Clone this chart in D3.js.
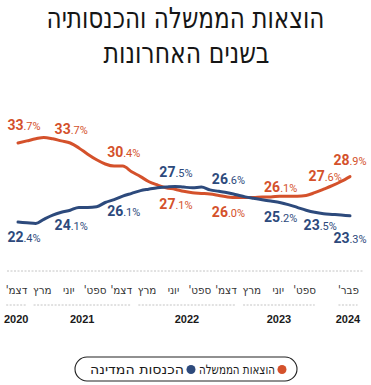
<!DOCTYPE html>
<html lang="he">
<head>
<meta charset="utf-8">
<script src="https://cdn.jsdelivr.net/npm/d3@7"></script>
<style>
  html, body { margin: 0; padding: 0; background: #fff; }
  svg { display: block; }
</style>
</head>
<body>
<script>
// ---------------- DATA ----------------
const titleLines = ["הוצאות הממשלה והכנסותיה", "בשנים האחרונות"];

const months = [
  "2020-12",
  "2021-01","2021-02","2021-03","2021-04","2021-05","2021-06",
  "2021-07","2021-08","2021-09","2021-10","2021-11","2021-12",
  "2022-01","2022-02","2022-03","2022-04","2022-05","2022-06",
  "2022-07","2022-08","2022-09","2022-10","2022-11","2022-12",
  "2023-01","2023-02","2023-03","2023-04","2023-05","2023-06",
  "2023-07","2023-08","2023-09","2023-10","2023-11","2023-12",
  "2024-01","2024-02"
];

// הוצאות הממשלה (% of GDP)
const expenditure = [
  33.7,
  34.0, 34.3, 34.5, 34.3, 34.0, 33.7,
  33.0, 32.1, 31.3, 30.7, 30.4, 30.4,
  29.6, 28.9, 28.2, 27.7, 27.3, 27.1,
  26.8, 26.6, 26.5, 26.4, 26.2, 26.0,
  25.9, 25.9, 25.9, 26.0, 26.0, 26.1,
  26.1, 26.1, 26.2, 26.6, 27.1, 27.6,
  28.2, 28.9
];

// הכנסות המדינה (% of GDP)
const revenue = [
  22.4,
  22.3, 22.2, 22.8, 23.4, 23.8, 24.1,
  24.5, 24.5, 24.6, 25.2, 25.6, 26.1,
  26.5, 26.9, 27.1, 27.3, 27.4, 27.5,
  27.4, 27.3, 27.4, 27.0, 26.8, 26.6,
  26.3, 26.0, 25.8, 25.6, 25.4, 25.2,
  24.9, 24.5, 24.1, 23.8, 23.6, 23.5,
  23.4, 23.3
];

// months that carry a value label
const labeledMonths = ["2020-12","2021-06","2021-12","2022-06","2022-12","2023-06","2023-12","2024-02"];

// axis ticks
const tickMonths = ["2020-12","2021-03","2021-06","2021-09","2021-12",
                    "2022-03","2022-06","2022-09","2022-12",
                    "2023-03","2023-06","2023-09","2024-02"];
const tickLabels = ["דצמ'","מרץ","יוני","ספט'","דצמ'",
                    "מרץ","יוני","ספט'","דצמ'",
                    "מרץ","יוני","ספט'","פבר'"];
const years = ["2020","2021","2022","2023","2024"];

const seriesNames = ["הוצאות הממשלה", "הכנסות המדינה"];

// ---------------- LAYOUT ----------------
const W = 371, H = 385;
const colors = { exp: "#d4512b", rev: "#2d4a7c" };
const parse = d3.timeParse("%Y-%m");

const svg = d3.select("body").append("svg")
  .attr("width", W).attr("height", H)
  .attr("viewBox", `0 0 ${W} ${H}`);

// Title
const titleFont = "'DejaVu Sans Condensed','DejaVu Sans',sans-serif";
const titleG = svg.append("g");
titleG.append("text")
  .attr("x", W / 2).attr("y", 28)
  .attr("text-anchor", "middle")
  .attr("direction", "rtl")
  .attr("font-family", titleFont)
  .attr("font-size", 29)
  .attr("fill", "#161616")
  .attr("textLength", 278).attr("lengthAdjust", "spacingAndGlyphs")
  .text(titleLines[0]);
titleG.append("text")
  .attr("x", W / 2 + 1).attr("y", 63)
  .attr("text-anchor", "middle")
  .attr("direction", "rtl")
  .attr("font-family", titleFont)
  .attr("font-size", 29)
  .attr("fill", "#161616")
  .attr("textLength", 166).attr("lengthAdjust", "spacingAndGlyphs")
  .text(titleLines[1]);

// Scales
const x = d3.scaleTime()
  .domain([parse(months[0]), parse(months[months.length - 1])])
  .range([18, 350]);
const y = d3.scaleLinear().domain([20, 35]).range([238.9, 133.9]);

const data = months.map((m, i) => ({ date: parse(m), key: m, exp: expenditure[i], rev: revenue[i] }));

// Lines
const lineGen = key => d3.line()
  .x(d => x(d.date)).y(d => y(d[key]))
  .curve(d3.curveMonotoneX);

svg.append("path").datum(data)
  .attr("fill", "none").attr("stroke", colors.exp)
  .attr("stroke-width", 3).attr("stroke-linejoin", "round").attr("stroke-linecap", "round")
  .attr("d", lineGen("exp"));
svg.append("path").datum(data)
  .attr("fill", "none").attr("stroke", colors.rev)
  .attr("stroke-width", 3).attr("stroke-linejoin", "round").attr("stroke-linecap", "round")
  .attr("d", lineGen("rev"));

// Value labels
const numFont = "Roboto, 'Open Sans', sans-serif";
const labG = svg.append("g");
const last = months.length - 1;
labeledMonths.forEach(m => {
  const i = months.indexOf(m);
  const d = data[i];
  ["exp", "rev"].forEach(key => {
    const other = key === "exp" ? "rev" : "exp";
    const above = d[key] >= d[other];
    let off = above ? -9 : 20;
    let dx = 1;
    if (i === 0) { dx = 6; off = above ? -13 : 20; }
    if (i === last) { off = above ? -12 : 27; dx = 0; }
    if (m === "2023-12") { dx = key === "exp" ? -7 : -12; off = above ? -5 : 16; }
    if (m === "2023-06") { off = above ? -4 : 19; }
    const v = d[key].toFixed(1).split(".");
    const t = labG.append("text")
      .attr("x", x(d.date) + dx)
      .attr("y", y(d[key]) + off)
      .attr("text-anchor", "middle")
      .attr("direction", "ltr")
      .attr("font-family", numFont)
      .attr("fill", colors[key]);
    t.append("tspan").attr("font-size", 14).attr("font-weight", 700).text(v[0]);
    t.append("tspan").attr("font-size", 11).attr("font-weight", 400).text("." + v[1] + "%");
  });
});

// Top dashed rule
svg.append("line")
  .attr("x1", 7).attr("x2", 363).attr("y1", 271).attr("y2", 271)
  .attr("stroke", "#b5b5b5").attr("stroke-width", 0.8).attr("stroke-dasharray", "2,1.5");

// Month axis
const tickFont = "'Liberation Sans Narrow','DejaVu Sans Condensed',sans-serif";
const axis = d3.axisBottom(x)
  .tickValues(tickMonths.map(parse))
  .tickFormat((d, i) => tickLabels[i])
  .tickSize(0).tickPadding(0);
const axG = svg.append("g").attr("transform", "translate(0,294)").call(axis);
axG.select(".domain").remove();
axG.selectAll("text")
  .attr("dy", 0).attr("x", -2)
  .attr("direction", "rtl")
  .attr("font-family", tickFont)
  .attr("font-size", 11.5)
  .attr("fill", "#333");

// Year groups: dashed separator spanning the group's month labels, year label centered
const tickNodes = axG.selectAll(".tick").nodes();
years.forEach(yr => {
  const idx = tickMonths.map((m, i) => m.startsWith(yr) ? i : -1).filter(i => i >= 0);
  if (!idx.length) return;
  let x0 = Infinity, x1 = -Infinity;
  idx.forEach(i => {
    const node = tickNodes[i];
    const bb = node.querySelector("text").getBBox();
    const tx = x(parse(tickMonths[i]));
    x0 = Math.min(x0, tx + bb.x);
    x1 = Math.max(x1, tx + bb.x + bb.width);
  });
  svg.append("line")
    .attr("x1", x0 + 1).attr("x2", x1 - 1).attr("y1", 305).attr("y2", 305)
    .attr("stroke", "#b5b5b5").attr("stroke-width", 0.8).attr("stroke-dasharray", "2,1.5");
  svg.append("text")
    .attr("x", (x0 + x1) / 2).attr("y", 323)
    .attr("text-anchor", "middle")
    .attr("font-family", "'Liberation Sans','DejaVu Sans',sans-serif")
    .attr("font-size", 11).attr("font-weight", 700)
    .attr("fill", "#1a1a1a")
    .text(yr);
});

// Legend
const lg = svg.append("g");
lg.append("rect")
  .attr("x", 75).attr("y", 357).attr("width", 222).attr("height", 24).attr("rx", 12)
  .attr("fill", "#fff").attr("stroke", "#222").attr("stroke-width", 1.1);
const legendItems = [
  { name: seriesNames[0], color: colors.exp, cx: 282, len: 76 },
  { name: seriesNames[1], color: colors.rev, cx: 191, len: 94 }
];
legendItems.forEach(it => {
  lg.append("circle").attr("cx", it.cx).attr("cy", 369.5).attr("r", 4.5).attr("fill", it.color);
  lg.append("text")
    .attr("x", it.cx - 7).attr("y", 374)
    .attr("text-anchor", "start")
    .attr("direction", "rtl")
    .attr("font-family", tickFont)
    .attr("font-size", 13)
    .attr("fill", "#1a1a1a")
    .attr("textLength", it.len).attr("lengthAdjust", "spacingAndGlyphs")
    .text(it.name);
});
</script>
</body>
</html>
